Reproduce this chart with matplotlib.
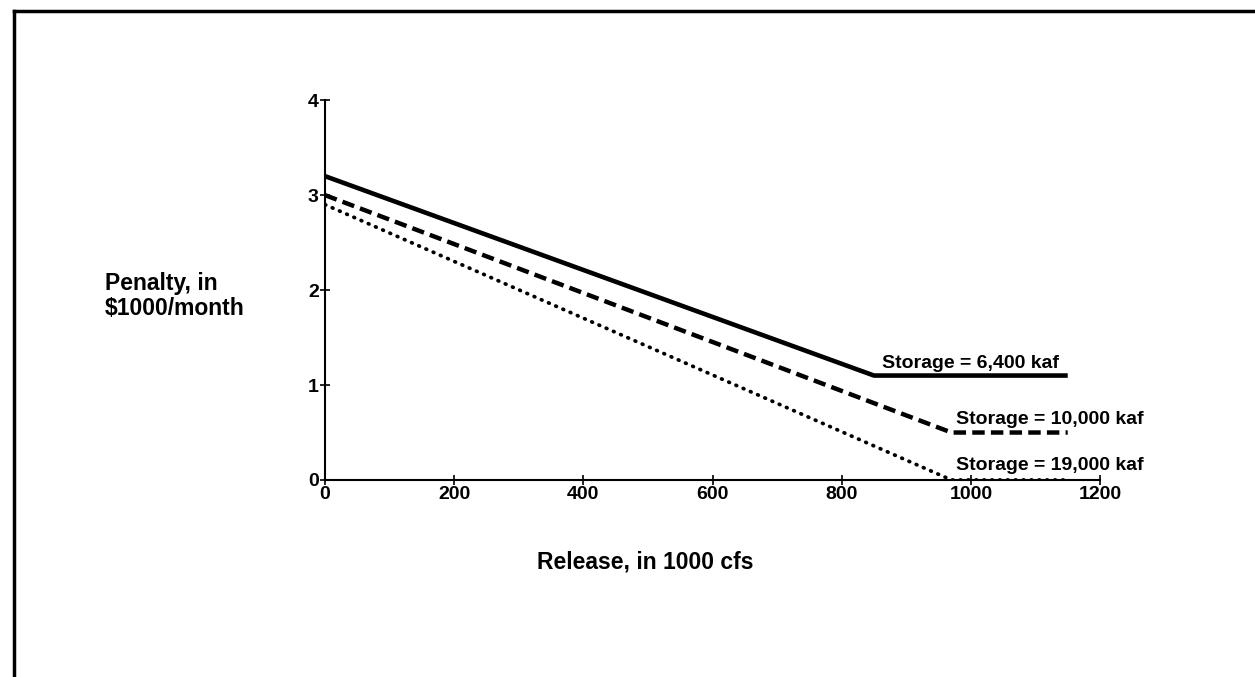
import matplotlib
matplotlib.use('Agg')
import matplotlib.pyplot as plt
from matplotlib.lines import Line2D

plt.rcParams['font.family'] = ['Liberation Sans', 'DejaVu Sans']
plt.rcParams['font.weight'] = 'bold'

# penalty curves, release in 1000 cfs vs penalty in $1000/month
release_6400 = [0, 850, 1150]
penalty_6400 = [3.2, 1.1, 1.1]
release_10000 = [0, 970, 1150]
penalty_10000 = [3.0, 0.5, 0.5]
release_19000 = [0, 970, 1150]
penalty_19000 = [2.9, 0.0, 0.0]

labels = ['Storage = 6,400 kaf', 'Storage = 10,000 kaf', 'Storage = 19,000 kaf']
x_ticks = [0, 200, 400, 600, 800, 1000, 1200]
y_ticks = [0, 1, 2, 3, 4]

fig = plt.figure(figsize=(12.55, 6.77), dpi=100)
ax = fig.add_axes([0.259, 0.291, 0.6175, 0.561])

ax.plot(release_6400, penalty_6400, color='black', lw=3.3, solid_capstyle='butt')
ax.plot(release_10000, penalty_10000, color='black', lw=3.2, linestyle=(0, (2.8, 1.4)))
ax.plot(release_19000, penalty_19000, color='black', lw=2.7, linestyle=(0, (0.2, 1.9)),
        dash_capstyle='round')

ax.text(862, 1.18, labels[0], fontsize=14, fontweight='bold', va='baseline')
ax.text(977, 0.59, labels[1], fontsize=14, fontweight='bold', va='baseline')
ax.text(977, 0.105, labels[2], fontsize=14, fontweight='bold', va='baseline')

ax.set_xlim(0, 1200)
ax.set_ylim(0, 4)
ax.set_xticks(x_ticks)
ax.set_yticks(y_ticks)
ax.tick_params(direction='inout', length=7, width=1.2, labelsize=14, pad=1)
for lab in ax.get_xticklabels() + ax.get_yticklabels():
    lab.set_fontweight('bold')
ax.spines['top'].set_visible(False)
ax.spines['right'].set_visible(False)
ax.spines['left'].set_linewidth(1.5)
ax.spines['bottom'].set_linewidth(1.5)
ax.margins(0)

fig.text(105 / 1255, 1 - 296 / 677, 'Penalty, in\n$1000/month', fontsize=16.5,
         fontweight='bold', ha='left', va='center', linespacing=1.1)
fig.text(645 / 1255, 1 - 562 / 677, 'Release, in 1000 cfs', fontsize=16.5,
         fontweight='bold', ha='center', va='center')

# frame around the page (top and left edges only)
fig.add_artist(Line2D([14 / 1255, 1.0], [1 - 11 / 677, 1 - 11 / 677],
                      transform=fig.transFigure, color='black', lw=2.5))
fig.add_artist(Line2D([14 / 1255, 14 / 1255], [0.0, 1 - 11 / 677],
                      transform=fig.transFigure, color='black', lw=2.5))

fig.savefig('out.png', dpi=100, facecolor='white')
